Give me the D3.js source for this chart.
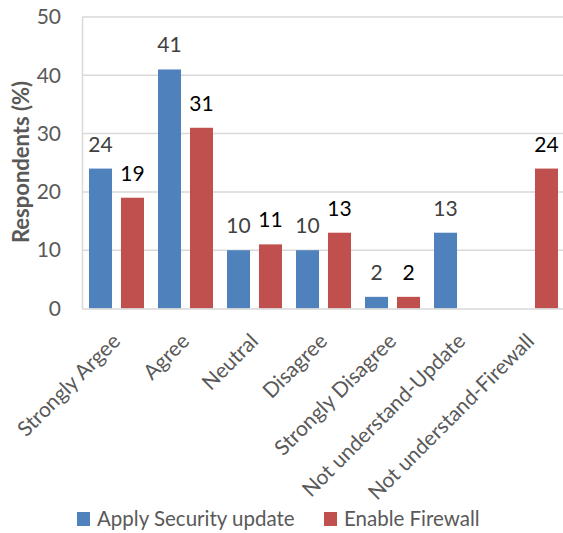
<!DOCTYPE html>
<html>
<head>
<meta charset="utf-8">
<script src="https://cdn.jsdelivr.net/npm/d3@7"></script>
<style>
  html, body { margin: 0; padding: 0; background: #fff; }
  svg { display: block; font-family: Lato, "Open Sans", sans-serif; }
</style>
</head>
<body>
<svg id="chart" width="563" height="533"></svg>
<script>
// Survey responses by category
const categories = ["Strongly Argee", "Agree", "Neutral", "Disagree", "Strongly Disagree", "Not understand-Update", "Not understand-Firewall"];
const seriesNames = ["Apply Security update", "Enable Firewall"];
const applyUpdate = [24, 41, 10, 10, 2, 13, null];
const enableFirewall = [19, 31, 11, 13, 2, null, 24];
const yTicks = [0, 10, 20, 30, 40, 50];

const colors = { "Apply Security update": "#4F81BD", "Enable Firewall": "#C0504D" };
const labelColors = { "Apply Security update": "#404040", "Enable Firewall": "#000000" };

const svg = d3.select("#chart");
const plotLeft = 82, plotRight = 565, plotTop = 17, plotBottom = 308.5;

const x0 = d3.scaleBand().domain(categories).range([plotLeft, plotRight]);
const x1 = d3.scaleBand().domain(seriesNames).range([7, x0.bandwidth() - 7]).paddingInner(0.28);
const y = d3.scaleLinear().domain([0, 50]).range([plotBottom, plotTop]);

// gridlines
svg.append("g").selectAll("line").data(yTicks.filter(d => d > 0)).join("line")
  .attr("x1", plotLeft).attr("x2", 563)
  .attr("y1", d => y(d)).attr("y2", d => y(d))
  .attr("stroke", "#D9D9D9").attr("stroke-width", 1.5);

// y axis via d3.axisLeft, restyled
const yAxis = svg.append("g").attr("transform", `translate(${plotLeft},0)`)
  .call(d3.axisLeft(y).tickValues(yTicks).tickSize(0).tickPadding(21));
yAxis.select(".domain").attr("stroke", "#D9D9D9").attr("stroke-width", 1.5);
yAxis.selectAll("text").attr("font-size", 21).attr("fill", "#595959")
  .attr("font-family", "Lato, sans-serif");

// data rows
const rows = categories.map((c, i) => ({
  cat: c,
  vals: [
    { key: seriesNames[0], v: applyUpdate[i] },
    { key: seriesNames[1], v: enableFirewall[i] }
  ].filter(d => d.v !== null)
}));

const groups = svg.append("g").selectAll("g").data(rows).join("g")
  .attr("transform", d => `translate(${x0(d.cat)},0)`);

groups.selectAll("rect").data(d => d.vals).join("rect")
  .attr("x", d => x1(d.key))
  .attr("width", x1.bandwidth())
  .attr("y", d => y(d.v))
  .attr("height", d => y(0) - y(d.v))
  .attr("fill", d => colors[d.key]);

groups.selectAll("text").data(d => d.vals).join("text")
  .attr("x", d => x1(d.key) + x1.bandwidth() / 2)
  .attr("y", d => y(d.v) - 17)
  .attr("text-anchor", "middle")
  .attr("font-size", 21)
  .attr("fill", d => labelColors[d.key])
  .text(d => d.v);

// x axis baseline
const xAxis = svg.append("g").attr("transform", `translate(0,${plotBottom})`)
  .call(d3.axisBottom(x0).tickSize(0).tickPadding(0));
xAxis.select(".domain").attr("stroke", "#D9D9D9").attr("stroke-width", 1.5);
xAxis.selectAll("text")
  .attr("font-size", 21).attr("fill", "#595959")
  .attr("font-family", "Lato, sans-serif")
  .attr("text-anchor", "end")
  .attr("dy", 0)
  .attr("transform", `translate(5,34) rotate(-45)`);

// y axis title
svg.append("text")
  .attr("transform", `translate(29,162) rotate(-90)`)
  .attr("text-anchor", "middle")
  .attr("font-size", 22).attr("font-weight", "bold")
  .attr("fill", "#595959")
  .text("Respondents (%)");

// legend
const legend = svg.append("g");
const legendX = [77, 324];
seriesNames.forEach((s, i) => {
  legend.append("rect").attr("x", legendX[i]).attr("y", 512).attr("width", 13).attr("height", 14)
    .attr("fill", colors[s]);
  legend.append("text").attr("x", legendX[i] + 20).attr("y", 526)
    .attr("font-size", 20.5).attr("fill", "#595959").text(s);
});
</script>
</body>
</html>
